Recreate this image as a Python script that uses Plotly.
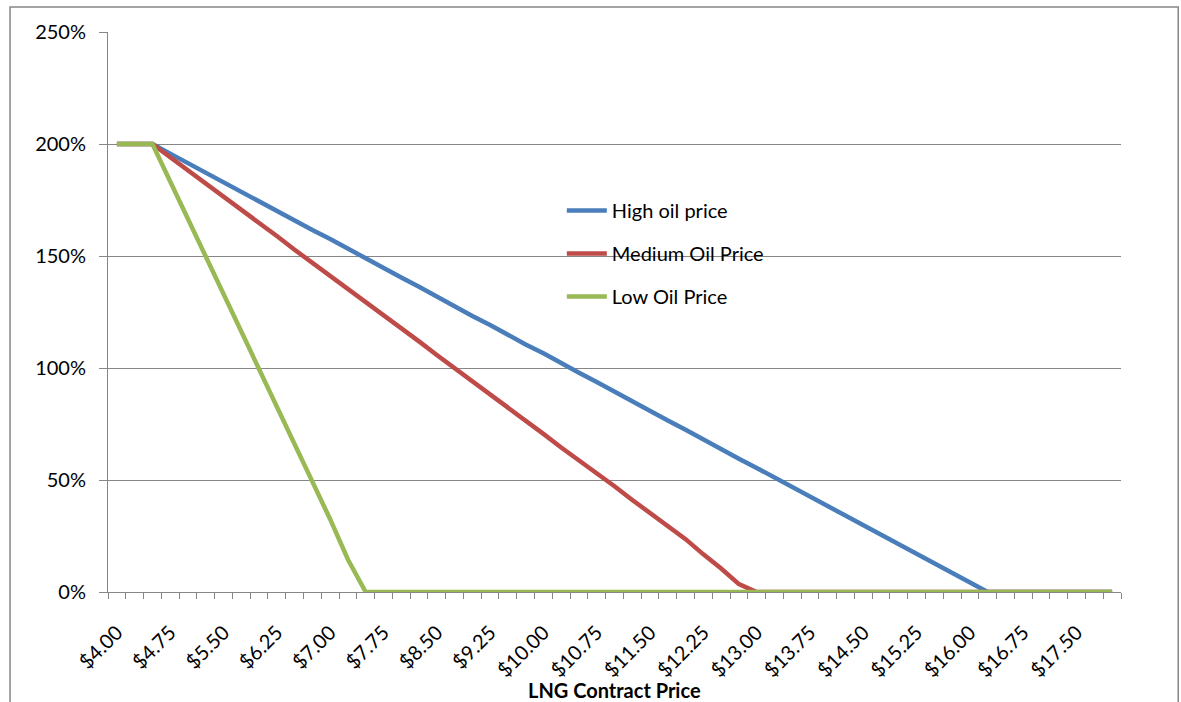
import plotly.graph_objects as go

# LNG contract price categories ($/MMBtu)
prices = [4.00, 4.25, 4.50, 4.75, 5.00, 5.25, 5.50, 5.75, 6.00, 6.25,
          6.50, 6.75, 7.00, 7.25, 7.50, 7.75, 8.00, 8.25, 8.50, 8.75,
          9.00, 9.25, 9.50, 9.75, 10.00, 10.25, 10.50, 10.75, 11.00, 11.25,
          11.50, 11.75, 12.00, 12.25, 12.50, 12.75, 13.00, 13.25, 13.50, 13.75,
          14.00, 14.25, 14.50, 14.75, 15.00, 15.25, 15.50, 15.75, 16.00, 16.25,
          16.50, 16.75, 17.00, 17.25, 17.50, 17.75, 18.00]

# Percentages for each oil price scenario
high_oil = [200, 200, 200, 195.7, 191.4, 187.3, 183.1, 178.6, 174.6, 170.1,
            166.1, 161.6, 157.6, 153.2, 148.7, 144.8, 140.4, 136.3, 131.8, 127.7,
            123.2, 119.2, 114.8, 110.5, 106.6, 102.0, 97.9, 93.7, 89.3, 85.2,
            80.8, 76.6, 72.4, 68.0, 63.9, 59.5, 55.4, 51.1, 46.8, 42.6,
            38.3, 34.1, 29.7, 25.6, 21.2, 17.1, 12.6, 8.2, 4.0, 0,
            0, 0, 0, 0, 0, 0, 0]

medium_oil = [200, 200, 200, 194.1, 188.3, 182.3, 176.5, 170.7, 164.6, 158.9,
              152.8, 147.0, 141.3, 135.2, 129.5, 123.4, 117.7, 111.9, 105.8, 100.0,
              94.2, 88.0, 82.4, 76.3, 70.6, 64.5, 58.9, 52.7, 47.2, 41.1,
              35.3, 29.5, 23.6, 16.8, 10.5, 3.5, 0, 0, 0, 0,
              0, 0, 0, 0, 0, 0, 0, 0, 0, 0,
              0, 0, 0, 0, 0, 0, 0]

low_oil = [200, 200, 200, 183.3, 166.5, 149.8, 133.0, 116.5, 100.0, 83.2,
           66.5, 49.8, 32.5, 14.5, 0, 0, 0, 0, 0, 0,
           0, 0, 0, 0, 0, 0, 0, 0, 0, 0,
           0, 0, 0, 0, 0, 0, 0, 0, 0, 0,
           0, 0, 0, 0, 0, 0, 0, 0, 0, 0,
           0, 0, 0, 0, 0, 0, 0]

series_names = ["High oil price", "Medium Oil Price", "Low Oil Price"]
series_colors = ["#4A7EBB", "#BE4B48", "#98B954"]

y_ticks = [0, 50, 100, 150, 200, 250]
y_labels = ["0%", "50%", "100%", "150%", "200%", "250%"]

x_tickvals = prices[::3]
x_ticktext = ["${:.2f}".format(p) for p in x_tickvals]

GRID = "#868686"
FONT = "Lato"

fig = go.Figure()
for name, vals, col in zip(series_names, [high_oil, medium_oil, low_oil], series_colors):
    fig.add_trace(go.Scatter(
        x=prices, y=vals, mode="lines", name=name, legendgroup=name,
        line=dict(color=col, width=4.5),
    ))

fig.update_layout(
    width=1181, height=702,
    margin=dict(l=108, r=60, t=32, b=110),
    plot_bgcolor="white", paper_bgcolor="white",
    font=dict(family=FONT, size=20, color="#000000"),
    showlegend=True,
    legend=dict(
        x=0.448, y=0.716, xanchor="left", yanchor="top",
        bgcolor="rgba(0,0,0,0)", tracegroupgap=14,
        font=dict(family=FONT, size=20, color="#000000"),
        itemwidth=40,
    ),
    xaxis=dict(
        range=[3.875, 18.125],
        showgrid=False, zeroline=False,
        showline=True, linecolor=GRID, linewidth=1,
        tickmode="array", tickvals=x_tickvals, ticktext=x_ticktext,
        tickangle=-45, ticks="", ticklabelstandoff=20,
        tickfont=dict(family=FONT, size=20, color="#000000"),
        minor=dict(tickmode="linear", tick0=3.875, dtick=0.25,
                   ticks="outside", ticklen=6, tickcolor=GRID, tickwidth=1,
                   showgrid=False),
    ),
    yaxis=dict(
        range=[0, 250],
        tickmode="array", tickvals=y_ticks, ticktext=y_labels,
        showgrid=True, gridcolor=GRID, gridwidth=1,
        zeroline=False,
        showline=True, linecolor=GRID, linewidth=1,
        ticks="outside", ticklen=8, tickcolor=GRID, ticklabelstandoff=9,
        tickfont=dict(family=FONT, size=20, color="#000000"),
    ),
    annotations=[dict(
        text="<b>LNG Contract Price</b>", xref="paper", yref="paper",
        x=0.5, y=-0.175, xanchor="center", yanchor="middle",
        showarrow=False, font=dict(family=FONT, size=20, color="#000000"),
    )],
    shapes=[dict(
        type="rect", xref="paper", yref="paper",
        x0=-0.0967, x1=1.0565, y0=-0.25, y1=1.0446,
        line=dict(color=GRID, width=1.5), layer="below",
    )],
)

fig.write_html("out.html")
